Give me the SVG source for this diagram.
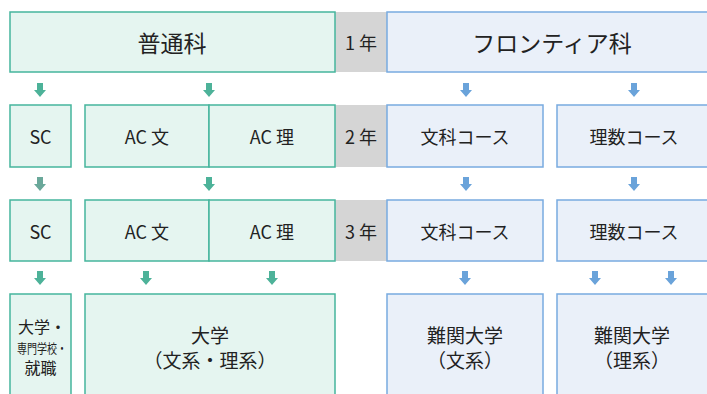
<svg xmlns="http://www.w3.org/2000/svg" width="707" height="394" viewBox="0 0 707 394">
<defs>
<style>
text{font-family:"Noto Sans CJK JP","Noto Sans",sans-serif;fill:#222;text-anchor:middle;dominant-baseline:central}
.g{fill:#e5f5f0;stroke:#45b59d;stroke-width:1.5}
.b{fill:#eaf0f9;stroke:#78abe0;stroke-width:1.5}
.yr{fill:#d5d5d5}
.t22{font-size:23px}
.t17{font-size:18px}
.t18{font-size:19px}
.t15{font-size:16px}
.ag{fill:#4db299}
.ab{fill:#6aa3da}
</style>
<polygon id="arr" points="-3,0 3,0 3,7 6,7 0,14 -6,7 -3,7"/>
</defs>
<rect width="707" height="394" fill="#fff"/>
<g id="years">
<rect class="yr" x="335" y="12" width="52" height="60"/>
<rect class="yr" x="335" y="105" width="52" height="62"/>
<rect class="yr" x="335" y="200" width="52" height="61"/>
<text class="t17" x="361" y="42">1 年</text>
<text class="t17" x="361" y="136">2 年</text>
<text class="t17" x="361" y="231">3 年</text>
</g>
<g id="futsuka"><rect class="g" x="10" y="12" width="325" height="60"/><text class="t22" x="172" y="42">普通科</text></g>
<g id="frontier"><rect class="b" x="387" y="12" width="330" height="60"/><text class="t22" x="552" y="42">フロンティア科</text></g>
<g id="sc2"><rect class="g" x="10" y="105" width="61" height="62"/><text class="t17" x="40.5" y="136">SC</text></g>
<g id="acb2"><rect class="g" x="85" y="105" width="124" height="62"/><text class="t17" x="147" y="136">AC 文</text></g>
<g id="acr2"><rect class="g" x="209" y="105" width="126" height="62"/><text class="t17" x="272" y="136">AC 理</text></g>
<g id="bunka2"><rect class="b" x="387" y="105" width="156" height="62"/><text class="t17" x="465" y="136">文科コース</text></g>
<g id="risu2"><rect class="b" x="557" y="105" width="160" height="62"/><text class="t17" x="634" y="136">理数コース</text></g>
<g id="sc3"><rect class="g" x="10" y="200" width="61" height="61"/><text class="t17" x="40.5" y="231">SC</text></g>
<g id="acb3"><rect class="g" x="85" y="200" width="124" height="61"/><text class="t17" x="147" y="231">AC 文</text></g>
<g id="acr3"><rect class="g" x="209" y="200" width="126" height="61"/><text class="t17" x="272" y="231">AC 理</text></g>
<g id="bunka3"><rect class="b" x="387" y="200" width="156" height="61"/><text class="t17" x="465" y="231">文科コース</text></g>
<g id="risu3"><rect class="b" x="557" y="200" width="160" height="61"/><text class="t17" x="634" y="231">理数コース</text></g>
<g id="shinro-sc"><rect class="g" x="10" y="294" width="61" height="110"/>
<text class="t15" x="42" y="326">大学・</text>
<text x="42" y="347" style="font-size:13px" textLength="50" lengthAdjust="spacingAndGlyphs">専門学校・</text>
<text class="t15" x="40.5" y="367">就職</text></g>
<g id="shinro-ac"><rect class="g" x="85" y="294" width="250" height="110"/>
<text class="t18" x="210" y="334">大学</text><text class="t18" x="210" y="359">（文系・理系）</text></g>
<g id="nankan-b"><rect class="b" x="387" y="294" width="156" height="110"/>
<text class="t18" x="465" y="334">難関大学</text><text class="t18" x="465" y="359">（文系）</text></g>
<g id="nankan-r"><rect class="b" x="557" y="294" width="160" height="110"/>
<text class="t18" x="632" y="334">難関大学</text><text class="t18" x="632" y="359">（理系）</text></g>
<g id="connectors">
<use href="#arr" class="ag" x="40" y="83"/>
<use href="#arr" class="ag" x="209" y="83"/>
<use href="#arr" class="ab" x="466" y="83"/>
<use href="#arr" class="ab" x="634" y="83"/>
<use href="#arr" class="ag" x="40" y="177" style="fill:#6aa89a"/>
<use href="#arr" class="ag" x="209" y="177"/>
<use href="#arr" class="ab" x="466" y="177"/>
<use href="#arr" class="ab" x="634" y="177"/>
<use href="#arr" class="ag" x="40" y="271"/>
<use href="#arr" class="ag" x="146" y="271"/>
<use href="#arr" class="ag" x="272" y="271"/>
<use href="#arr" class="ab" x="465" y="271"/>
<use href="#arr" class="ab" x="595" y="271"/>
<use href="#arr" class="ab" x="671" y="271"/>
</g>
</svg>
